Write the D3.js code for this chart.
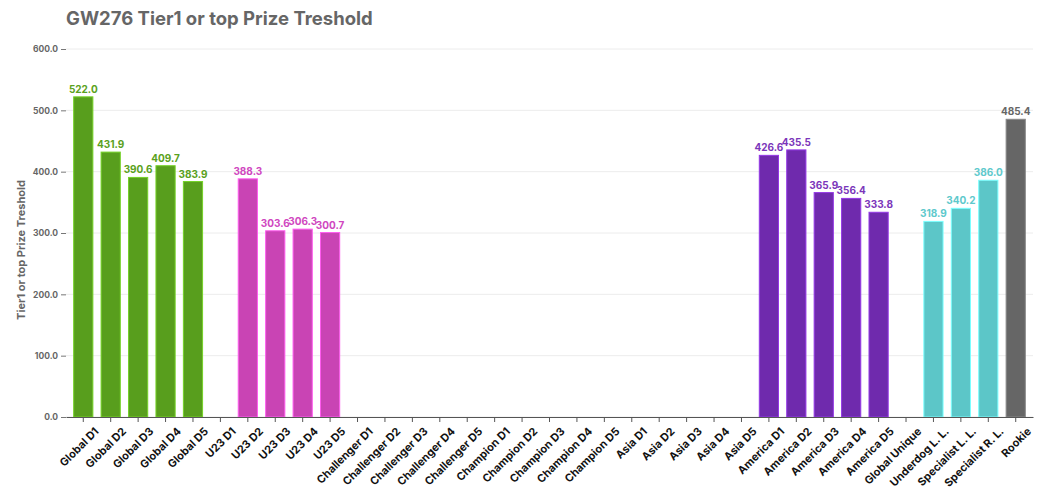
<!DOCTYPE html>
<html>
<head>
<meta charset="utf-8">
<script src="https://cdn.jsdelivr.net/npm/d3@7"></script>
<style>
  body { margin: 0; background: #fff; }
  text { font-family: Inter, "DejaVu Sans", sans-serif; }
</style>
</head>
<body>
<div id="chart-area"></div>
<script>
const chartWidth = 1050;
const chartHeight = 492;

const categories = [
  "Global D1", "Global D2", "Global D3", "Global D4", "Global D5",
  "U23 D1", "U23 D2", "U23 D3", "U23 D4", "U23 D5",
  "Challenger D1", "Challenger D2", "Challenger D3", "Challenger D4", "Challenger D5",
  "Champion D1", "Champion D2", "Champion D3", "Champion D4", "Champion D5",
  "Asia D1", "Asia D2", "Asia D3", "Asia D4", "Asia D5",
  "America D1", "America D2", "America D3", "America D4", "America D5",
  "Global Unique", "Underdog L. L.", "Specialist L. L.", "Specialist R. L.", "Rookie"
];

// null = no bar drawn
const values = [
  522.0, 431.9, 390.6, 409.7, 383.9,
  null, 388.3, 303.6, 306.3, 300.7,
  null, null, null, null, null,
  null, null, null, null, null,
  null, null, null, null, null,
  426.6, 435.5, 365.9, 356.4, 333.8,
  null, 318.9, 340.2, 386.0, 485.4
];

const groups = [
  "global", "global", "global", "global", "global",
  "u23", "u23", "u23", "u23", "u23",
  "challenger", "challenger", "challenger", "challenger", "challenger",
  "champion", "champion", "champion", "champion", "champion",
  "asia", "asia", "asia", "asia", "asia",
  "america", "america", "america", "america", "america",
  "special", "special", "special", "special", "rookie"
];

const yTicks = [0, 100, 200, 300, 400, 500, 600];

const barColor = {
  global: "#589e1d", u23: "#c944b4", america: "#6f2aad",
  special: "#5cc6c8", rookie: "#666666", challenger: "#999", champion: "#999", asia: "#999"
};
const labelColor = {
  global: "#5aa120", u23: "#d047c0", america: "#7b36ba",
  special: "#5ec9cc", rookie: "#666666", challenger: "#999", champion: "#999", asia: "#999"
};

const data = categories.map((c, i) => ({name: c, value: values[i], group: groups[i]}));

const svg = d3.select("#chart-area").append("svg")
  .attr("width", chartWidth)
  .attr("height", chartHeight);

const x = d3.scaleBand()
  .domain(categories)
  .range([66, 1033])
  .paddingInner(0.3)
  .paddingOuter(0.28);

const y = d3.scaleLinear()
  .domain([0, 600])
  .range([417, 49]);

// title
svg.append("text")
  .attr("x", 66)
  .attr("y", 25)
  .attr("font-size", "18.5px")
  .attr("font-weight", 700)
  .attr("fill", "#666")
  .text("GW276 Tier1 or top Prize Treshold");

// y label
svg.append("text")
  .attr("transform", "translate(25, 250) rotate(-90)")
  .attr("text-anchor", "middle")
  .attr("font-size", "11px")
  .attr("font-weight", 700)
  .attr("fill", "#666")
  .text("Tier1 or top Prize Treshold");

// gridlines
svg.append("g")
  .selectAll("line").data(yTicks).enter().append("line")
  .attr("x1", 66).attr("x2", 1033)
  .attr("y1", d => y(d)).attr("y2", d => y(d))
  .attr("stroke", "#ececec")
  .attr("stroke-width", 1);

// y axis
const yAxis = svg.append("g")
  .attr("transform", "translate(66,0)")
  .call(d3.axisLeft(y).tickValues(yTicks).tickFormat(d3.format(".1f")).tickSize(5).tickPadding(3));
yAxis.select(".domain").remove();
yAxis.selectAll(".tick line").attr("stroke", "#777");
yAxis.selectAll(".tick text")
  .attr("font-size", "8.5px")
  .attr("font-weight", 700)
  .attr("fill", "#666")
  .style("font-family", "Inter, sans-serif");

// bars
svg.append("g").selectAll("rect")
  .data(data.filter(d => d.value !== null)).enter().append("rect")
  .attr("x", d => x(d.name))
  .attr("y", d => y(d.value))
  .attr("width", x.bandwidth())
  .attr("height", d => y(0) - y(d.value))
  .attr("fill", d => barColor[d.group])
  .attr("stroke", d => d3.color(barColor[d.group]).brighter(0.8))
  .attr("stroke-width", 1);

// value labels
svg.append("g").selectAll("text")
  .data(data.filter(d => d.value !== null)).enter().append("text")
  .attr("x", d => x(d.name) + x.bandwidth() / 2)
  .attr("y", d => y(d.value) - 4)
  .attr("text-anchor", "middle")
  .attr("font-size", "10px")
  .attr("font-weight", 700)
  .attr("fill", d => labelColor[d.group])
  .text(d => d.value.toFixed(1));

// x axis
const xAxis = svg.append("g")
  .attr("transform", "translate(0,417)")
  .call(d3.axisBottom(x).tickSize(5).tickSizeOuter(0));
xAxis.select(".domain").attr("stroke", "#555");
xAxis.selectAll(".tick line").attr("stroke", "#555");
xAxis.selectAll(".tick text")
  .attr("font-size", "11px")
  .attr("font-weight", 700)
  .attr("fill", "#111")
  .style("font-family", "Inter, sans-serif")
  .attr("text-anchor", "end")
  .attr("transform", "translate(5,4) rotate(-45)")
  .attr("dy", "0.7em");
</script>
</body>
</html>
